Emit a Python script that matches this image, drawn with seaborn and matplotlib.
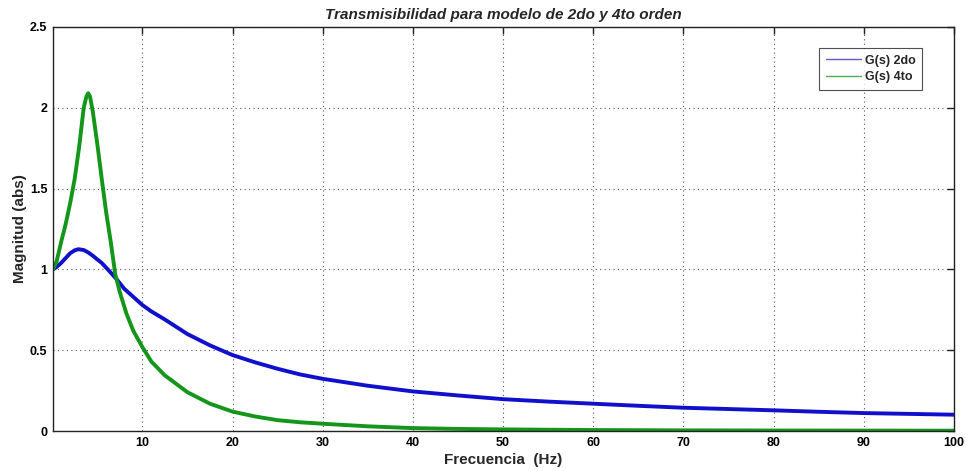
import numpy as np
import pandas as pd
import matplotlib
matplotlib.use("Agg")
import matplotlib.pyplot as plt
import seaborn as sns
from matplotlib.lines import Line2D

# Frequency samples (Hz) for the second-order model
freq_2do = [0.1, 0.5, 1.0, 1.5, 2.0, 2.5, 2.9, 3.5, 4.0, 4.5, 5.0, 5.5, 6.0,
            6.5, 7.14, 8.0, 9.0, 10, 11, 12.5, 15, 17.5, 20, 22.5, 25, 27.5,
            30, 35, 40, 45, 50, 55, 60, 65, 70, 75, 80, 85, 90, 95, 100]
mag_2do = [1.00, 1.015, 1.04, 1.07, 1.10, 1.118, 1.125, 1.12, 1.105, 1.085,
           1.062, 1.04, 1.01, 0.98, 0.94, 0.88, 0.83, 0.78, 0.74, 0.69, 0.60,
           0.53, 0.47, 0.425, 0.385, 0.35, 0.323, 0.28, 0.245, 0.22, 0.197,
           0.182, 0.169, 0.156, 0.144, 0.136, 0.128, 0.119, 0.111, 0.106,
           0.101]

# Frequency samples (Hz) for the fourth-order model
freq_4to = [0.1, 0.5, 1.0, 1.5, 2.0, 2.5, 3.0, 3.5, 3.8, 4.0, 4.2, 4.5, 5.0,
            5.5, 6.0, 6.5, 7.0, 7.14, 7.5, 8.25, 9.0, 10, 11, 12.5, 15, 17.5,
            20, 22.5, 25, 27.5, 30, 35, 40, 45, 50, 60, 70, 80, 90, 100]
mag_4to = [1.00, 1.05, 1.17, 1.28, 1.41, 1.56, 1.76, 2.00, 2.07, 2.09, 2.07,
           1.98, 1.78, 1.56, 1.35, 1.17, 0.97, 0.94, 0.86, 0.725, 0.62, 0.52,
           0.43, 0.344, 0.24, 0.169, 0.12, 0.09, 0.067, 0.054, 0.045, 0.029,
           0.018, 0.013, 0.010, 0.006, 0.004, 0.003, 0.0025, 0.002]

series = ["G(s) 2do", "G(s) 4to"]
colors = ["#1010cc", "#14961a"]
legend_colors = ["#6060b8", "#50aa50"]

x_ticks = [10, 20, 30, 40, 50, 60, 70, 80, 90, 100]
y_ticks = [0, 0.5, 1, 1.5, 2, 2.5]
y_tick_labels = ["0", "0.5", "1", "1.5", "2", "2.5"]

df = pd.DataFrame({
    "Frecuencia": freq_2do + freq_4to,
    "Magnitud": mag_2do + mag_4to,
    "Modelo": [series[0]] * len(freq_2do) + [series[1]] * len(freq_4to),
})

sns.set_theme(style="white")
plt.rcParams["font.family"] = ["Liberation Sans", "DejaVu Sans"]

fig = plt.figure(figsize=(9.66, 4.71), dpi=100)
ax = fig.add_axes([0.0549, 0.0849, 0.9327, 0.8578])

sns.lineplot(data=df, x="Frecuencia", y="Magnitud", hue="Modelo",
             palette=colors, linewidth=2.8, sort=False, ax=ax, legend=False)
for ln in ax.lines:
    ln.set_solid_joinstyle("round")
    ln.set_solid_capstyle("round")

ax.set_xlim(0.1, 100)
ax.set_ylim(0, 2.5)
ax.set_xticks(x_ticks)
ax.set_yticks(y_ticks)
ax.set_yticklabels(y_tick_labels)
ax.grid(True, linestyle=(0, (1, 3)), color="#555555", linewidth=0.8)

for s in ax.spines.values():
    s.set_color("#222222")
    s.set_linewidth(1.0)
ax.tick_params(direction="in", length=5, width=1, top=True, right=True,
               labelsize=9, colors="#222222", pad=4)
for lab in ax.get_xticklabels() + ax.get_yticklabels():
    lab.set_fontweight("bold")
    lab.set_color("black")

ax.set_xlabel("Frecuencia  (Hz)", fontsize=11, fontweight="bold", labelpad=3)
ax.set_ylabel("Magnitud (abs)", fontsize=11, fontweight="bold", labelpad=2)
ax.set_title("Transmisibilidad para modelo de 2do y 4to orden",
             fontsize=11, fontweight="bold", style="italic", pad=6)

handles = [Line2D([], [], color=c, linewidth=1.0) for c in legend_colors]
leg = ax.legend(handles, series, loc="upper right",
                bbox_to_anchor=(0.965, 0.948), borderaxespad=0,
                frameon=True, fancybox=False, edgecolor="#222222",
                fontsize=9, handlelength=2.8, handletextpad=0.3,
                borderpad=0.55, labelspacing=0.35)
leg.get_frame().set_linewidth(0.8)
for t in leg.get_texts():
    t.set_fontweight("bold")

fig.savefig("out.png", dpi=100)
